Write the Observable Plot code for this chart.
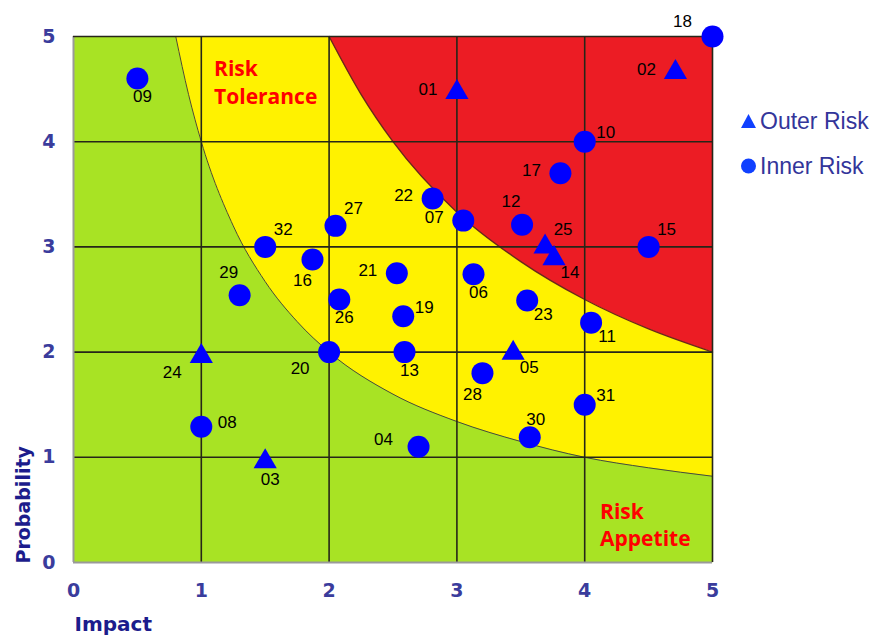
<!DOCTYPE html>
<html>
<head>
<meta charset="utf-8">
<script src="https://cdn.jsdelivr.net/npm/d3@7"></script>
<script src="https://cdn.jsdelivr.net/npm/@observablehq/plot@0.6"></script>
<style>
  html, body { margin: 0; padding: 0; background: #ffffff; }
  #wrap { position: relative; width: 877px; height: 637px; overflow: hidden; }
  #legend { position: absolute; left: 740px; top: 106px; font-family: "Liberation Sans", Arial, sans-serif; font-size: 23px; color: #33359a; }
  .item { display: flex; align-items: center; height: 30px; margin-bottom: 15px; white-space: nowrap; }
  .item svg { margin-right: 3px; }
</style>
</head>
<body>
<div id="wrap">
  <div id="chart"></div>
  <div id="legend">
    <div class="item"><svg width="17" height="16"><polygon points="8.5,1 16,15 1,15" fill="#1040ff"/></svg><span>Outer Risk</span></div>
    <div class="item"><svg width="17" height="16"><circle cx="8.5" cy="8" r="7.5" fill="#1040ff"/></svg><span>Inner Risk</span></div>
  </div>
</div>
<script>
// ---- data ----
const ids         = ["01","02","03","04","05","06","07","08","09","10","11","12","13","14","15","16","17","18","19","20","21","22","23","24","25","26","27","28","29","30","31","32"];
const riskType    = ["Outer","Outer","Outer","Inner","Outer","Inner","Inner","Inner","Inner","Inner","Inner","Inner","Inner","Outer","Inner","Inner","Inner","Inner","Inner","Inner","Inner","Inner","Inner","Outer","Outer","Inner","Inner","Inner","Inner","Inner","Inner","Inner"];
const impact      = [3.00, 4.71, 1.50, 2.70, 3.44, 3.13, 3.05, 1.00, 0.50, 4.00, 4.05, 3.51, 2.59, 3.76, 4.50, 1.87, 3.81, 5.00, 2.58, 2.00, 2.53, 2.81, 3.55, 1.00, 3.69, 2.08, 2.05, 3.20, 1.30, 3.57, 4.00, 1.50];
const probability = [4.47, 4.66, 0.96, 1.10, 1.99, 2.74, 3.25, 1.29, 4.60, 4.00, 2.28, 3.21, 2.00, 2.89, 3.00, 2.88, 3.70, 5.00, 2.34, 2.00, 2.75, 3.46, 2.49, 1.96, 3.00, 2.50, 3.20, 1.80, 2.54, 1.19, 1.50, 3.00];
const labelSide   = ["w","w","s","w4","se","s","w","e","s","ene","se","nnw","s","se","ne","ssw","w","nw","ene","sw","w","w","se","sw","ne","s","ne","ssw","nnw","n","ene","ne"];

// zone boundaries
const appetiteX  = [0.80, 0.90, 1.00, 1.25, 1.50, 1.75, 2.00, 2.50, 3.00, 3.50, 4.00, 4.50, 5.00];
const appetiteY  = [5.00, 4.45, 4.00, 3.20, 2.67, 2.29, 2.00, 1.60, 1.34, 1.15, 1.00, 0.90, 0.82];
const toleranceX = [2.00, 2.25, 2.50, 3.00, 3.50, 4.00, 4.50, 5.00];
const toleranceY = [5.00, 4.45, 4.00, 3.33, 2.86, 2.50, 2.22, 2.00];

const zoneLabels = ["Risk\nTolerance", "Risk\nAppetite"];
const zoneX      = [1.10, 4.12];
const zoneY      = [4.58, 0.37];

const xTicks = [0, 1, 2, 3, 4, 5];
const yTicks = [0, 1, 2, 3, 4, 5];
const gridLines = [1, 2, 3, 4];

// ---- build tables ----
const points = ids.map((id, i) => ({id, type: riskType[i], impact: impact[i], probability: probability[i], side: labelSide[i]}));
const appetite = appetiteX.map((x, i) => ({x, y: appetiteY[i]}));
const tolerance = toleranceX.map((x, i) => ({x, y: toleranceY[i]}));
const zones = zoneLabels.map((t, i) => ({t, x: zoneX[i], y: zoneY[i]}));

const offsets = {
  s: [5, 18], n: [6, -18], w: [-29, -3], w4: [-35, -7], e: [26, -4],
  ne: [18, -17], ene: [21, -9], nw: [-30, -15], nnw: [-11, -23],
  se: [16, 14], sw: [-29, 16], ssw: [-10, 21]
};

const GREEN = "#a8e324", YELLOW = "#fff200", RED = "#ec1c24", BLUE = "#0000ff";
const GRID = "#262618";

const labelMarks = Object.entries(offsets).map(([k, [dx, dy]]) =>
  Plot.text(points.filter(d => d.side === k), {
    x: "impact", y: "probability", text: "id", dx, dy,
    fill: "#000", fontSize: 17, fontFamily: "Liberation Sans, Arial, sans-serif"
  })
);

const chart = Plot.plot({
  width: 877,
  height: 637,
  marginLeft: 73,
  marginRight: 165,
  marginTop: 36,
  marginBottom: 75,
  x: {domain: [0, 5]},
  y: {domain: [0, 5]},
  style: {background: "transparent", overflow: "visible"},
  marks: [
    Plot.frame({fill: GREEN, stroke: null}),
    Plot.areaY(appetite, {x: "x", y1: "y", y2: 5, fill: YELLOW, curve: "monotone-x"}),
    Plot.areaY(tolerance, {x: "x", y1: "y", y2: 5, fill: RED, curve: "monotone-x"}),
    Plot.line(appetite, {x: "x", y: "y", stroke: "#4a4a3a", strokeWidth: 1, curve: "monotone-x"}),
    Plot.line(tolerance, {x: "x", y: "y", stroke: "#6a2a1a", strokeWidth: 1.4, curve: "monotone-x"}),
    Plot.ruleX(gridLines, {stroke: GRID, strokeWidth: 1.6}),
    Plot.ruleY(gridLines, {stroke: GRID, strokeWidth: 1.6}),
    Plot.ruleX([0], {stroke: "#9a9a9a", strokeWidth: 2}),
    Plot.ruleY([0], {stroke: "#9a9a9a", strokeWidth: 2}),
    Plot.ruleX([5], {stroke: GRID, strokeWidth: 1.6}),
    Plot.ruleY([5], {stroke: GRID, strokeWidth: 1.6}),
    Plot.text(zones, {x: "x", y: "y", text: "t", textAnchor: "start", lineAnchor: "middle", lineHeight: 1.33,
      fill: "#ff0000", fontSize: 21, fontWeight: "bold", fontFamily: "Open Sans, Liberation Sans, sans-serif"}),
    Plot.dot(points.filter(d => d.type === "Inner"), {x: "impact", y: "probability", r: 11, fill: BLUE, symbol: "circle"}),
    Plot.dot(points.filter(d => d.type === "Outer"), {x: "impact", y: "probability", r: 8.6, fill: BLUE, symbol: "triangle"}),
    ...labelMarks,
    Plot.axisX({ticks: xTicks, tickSize: 0, tickPadding: 21, label: null, fontSize: 19, fontWeight: "bold",
      fill: "#3a3c9c", fontFamily: "DejaVu Sans, sans-serif", tickFormat: d => String(d)}),
    Plot.axisY({ticks: yTicks, tickSize: 0, tickPadding: 18, label: null, fontSize: 19, fontWeight: "bold",
      fill: "#3a3c9c", fontFamily: "DejaVu Sans, sans-serif", tickFormat: d => String(d)}),
    Plot.text(["Impact"], {frameAnchor: "bottom-left", dx: 1, dy: 62, textAnchor: "start", lineAnchor: "middle",
      fill: "#1c1c8c", fontSize: 20, fontWeight: "bold", fontFamily: "DejaVu Sans, sans-serif"}),
    Plot.text(["Probability"], {frameAnchor: "bottom-left", dx: -50, dy: 1, rotate: -90, textAnchor: "start", lineAnchor: "middle",
      fill: "#1c1c8c", fontSize: 19, fontWeight: "bold", fontFamily: "DejaVu Sans, sans-serif"})
  ]
});
document.getElementById("chart").appendChild(chart);
</script>
</body>
</html>
